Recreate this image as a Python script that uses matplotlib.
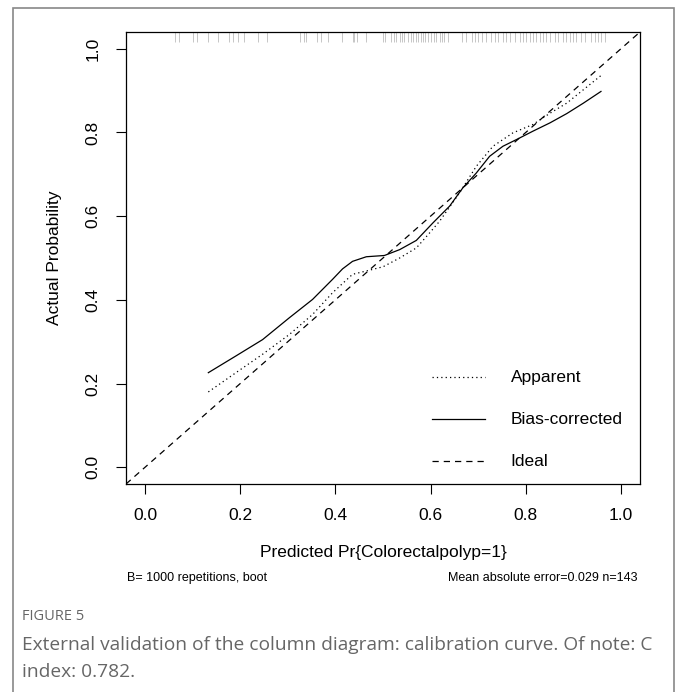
import numpy as np
import matplotlib
matplotlib.use("Agg")
import matplotlib.pyplot as plt
from matplotlib.patches import Rectangle

plt.rcParams['font.family'] = ['Liberation Sans', 'DejaVu Sans']

# calibration curves
app_x = [0.133, 0.191, 0.247, 0.303, 0.352, 0.394, 0.436, 0.465, 0.500, 0.535, 0.570,
         0.598, 0.619, 0.661, 0.696, 0.731, 0.773, 0.815, 0.851, 0.886, 0.921, 0.958]
app_y = [0.180, 0.226, 0.270, 0.317, 0.365, 0.417, 0.461, 0.469, 0.479, 0.500, 0.524,
         0.560, 0.588, 0.656, 0.719, 0.767, 0.799, 0.819, 0.846, 0.870, 0.902, 0.936]

bc_x = [0.133, 0.191, 0.247, 0.303, 0.352, 0.394, 0.415, 0.436, 0.465, 0.503, 0.535,
        0.570, 0.605, 0.640, 0.668, 0.696, 0.724, 0.752, 0.784, 0.815, 0.851, 0.886,
        0.921, 0.958]
bc_y = [0.226, 0.266, 0.305, 0.357, 0.401, 0.449, 0.474, 0.492, 0.503, 0.506, 0.520,
        0.542, 0.584, 0.624, 0.668, 0.703, 0.743, 0.767, 0.785, 0.803, 0.823, 0.845,
        0.870, 0.898]

# predicted values shown as rug along the top
rug = [0.062, 0.072, 0.100, 0.110, 0.133, 0.154, 0.177, 0.185, 0.196, 0.208, 0.238,
       0.257, 0.325, 0.334, 0.339, 0.361, 0.370, 0.385, 0.413, 0.436, 0.440, 0.446,
       0.465, 0.500, 0.505, 0.517, 0.523, 0.528, 0.535, 0.540, 0.545, 0.552, 0.559,
       0.563, 0.570, 0.573, 0.579, 0.584, 0.589, 0.594, 0.601, 0.607, 0.612, 0.619,
       0.623, 0.629, 0.636, 0.665, 0.675, 0.686, 0.693, 0.700, 0.709, 0.717, 0.726,
       0.735, 0.742, 0.752, 0.759, 0.766, 0.777, 0.787, 0.794, 0.801, 0.808, 0.815,
       0.822, 0.829, 0.836, 0.843, 0.850, 0.861, 0.868, 0.878, 0.885, 0.892, 0.899,
       0.906, 0.917, 0.924, 0.938, 0.945, 0.952, 0.959, 0.966]

ticks = [0.0, 0.2, 0.4, 0.6, 0.8, 1.0]
tick_labels = ["0.0", "0.2", "0.4", "0.6", "0.8", "1.0"]

fig = plt.figure(figsize=(6.8, 6.92), dpi=100)
ax = fig.add_axes([126/680, 1 - 484/692, 514/680, 452/692])

lim = (-0.04, 1.04)
ax.plot(lim, lim, color='black', lw=0.9, dashes=(5, 4))
ax.plot(app_x, app_y, color='black', lw=0.9, dashes=(1, 2.5))
ax.plot(bc_x, bc_y, color='black', lw=0.9)

# rug
for r in rug:
    ax.plot([r, r], [1.04, 1.016], color='#bdbdbd', lw=0.6, solid_capstyle='butt')

ax.set_xlim(lim)
ax.set_ylim(lim)
ax.set_xticks(ticks)
ax.set_xticklabels(tick_labels, fontsize=12.5)
ax.set_yticks(ticks)
ax.set_yticklabels(tick_labels, fontsize=12.5, rotation=90, va='center')
ax.tick_params(direction='out', length=7.5, width=0.8)
ax.tick_params(axis='x', pad=10)
ax.tick_params(axis='y', pad=11)
for s in ax.spines.values():
    s.set_linewidth(0.9)

ax.set_ylabel("Actual Probability", fontsize=12.5, va='center')
ax.yaxis.set_label_coords((55 - 126) / 514, 0.5)
ax.set_xlabel("Predicted Pr{Colorectalpolyp=1}", fontsize=12.5, va='center')
ax.xaxis.set_label_coords(0.5, (484 - 553) / 452)

# legend drawn in R style
leg = [("Apparent", (1, 2.5)), ("Bias-corrected", None), ("Ideal", (5, 4))]
leg_y = [0.215, 0.115, 0.014]
for (name, d), yy in zip(leg, leg_y):
    if d is None:
        ax.plot([0.602, 0.714], [yy, yy], color='black', lw=0.9)
    else:
        ax.plot([0.602, 0.714], [yy, yy], color='black', lw=0.9, dashes=d)
    ax.text(0.768, yy, name, fontsize=12.5, va='center', ha='left')

fig.text(127/680, 1 - 578/692, "B= 1000 repetitions, boot", fontsize=9, va='center')
fig.text(638/680, 1 - 578/692, "Mean absolute error=0.029 n=143", fontsize=9,
         va='center', ha='right')

cap_font = ['Open Sans', 'DejaVu Sans']
fig.text(22/680, 1 - 617/692, "FIGURE 5", fontsize=10.5, color='#666666',
         va='center', family=cap_font)
fig.text(22/680, 1 - 645/692,
         "External validation of the column diagram: calibration curve. Of note: C",
         fontsize=13.8, color='#666666', va='center', family=cap_font)
fig.text(22/680, 1 - 672/692, "index: 0.782.", fontsize=13.8, color='#666666',
         va='center', family=cap_font)

frame = Rectangle((13/680, -0.05), (674 - 13)/680, 1.05 - 8/692, transform=fig.transFigure,
                  fill=False, edgecolor='#888888', lw=1.2)
fig.patches.append(frame)

fig.savefig("out.png", dpi=100)
